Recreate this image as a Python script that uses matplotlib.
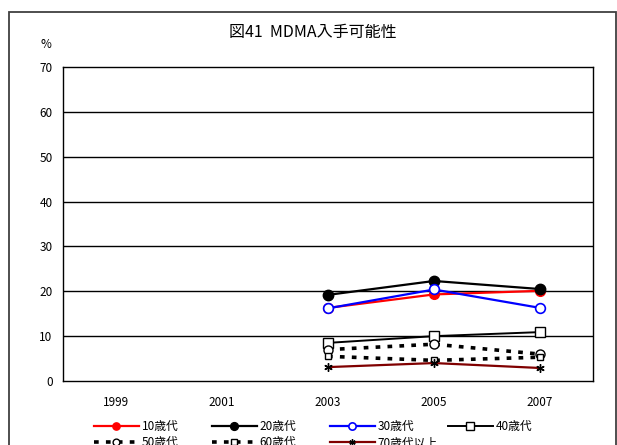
import matplotlib
matplotlib.use('Agg')
import matplotlib.pyplot as plt
from matplotlib.patches import Rectangle
import numpy as np

plt.rcParams['font.family'] = ['Noto Sans CJK JP', 'DejaVu Sans']

# 調査年と年代別の入手可能性（%）
years = ['1999', '2001', '2003', '2005', '2007']
teens = [None, None, 16.3, 19.3, 20.1]
twenties = [None, None, 19.2, 22.3, 20.5]
thirties = [None, None, 16.2, 20.4, 16.3]
forties = [None, None, 8.5, 10.0, 10.9]
fifties = [None, None, 7.0, 8.2, 6.0]
sixties = [None, None, 5.5, 4.6, 5.3]
seventies = [None, None, 3.1, 4.0, 2.9]

W, H = 617, 445
fig = plt.figure(figsize=(W / 100, H / 100), dpi=100)
ax = fig.add_axes([63 / W, 1 - 381 / H, 530 / W, 314 / H])

x = np.arange(len(years))

def arr(v):
    return np.array([np.nan if a is None else a for a in v], dtype=float)

dot = (0, (1.3, 2.0))
h10, = ax.plot(x, arr(teens), color='red', lw=1.6, marker='o', ms=7,
               mfc='red', mec='red', label='10歳代', zorder=3)
h20, = ax.plot(x, arr(twenties), color='black', lw=1.6, marker='o', ms=7.5,
               mfc='black', mec='black', label='20歳代', zorder=3)
h30, = ax.plot(x, arr(thirties), color='blue', lw=1.6, marker='o', ms=7,
               mfc='white', mec='blue', mew=1.2, label='30歳代', zorder=4)
h40, = ax.plot(x, arr(forties), color='black', lw=1.4, marker='s', ms=7,
               mfc='white', mec='black', mew=1.0, label='40歳代', zorder=3)
h50, = ax.plot(x, arr(fifties), color='black', lw=2.6, ls=dot, marker='o', ms=6.5,
               mfc='white', mec='black', mew=1.0, label='50歳代', zorder=3)
h60, = ax.plot(x, arr(sixties), color='black', lw=2.6, ls=dot, marker='s', ms=5,
               mfc='white', mec='black', mew=1.0, label='60歳代', zorder=3)
h70, = ax.plot(x, arr(seventies), color='#800000', lw=1.6, marker=(6, 2, 0), ms=6,
               mec='black', mew=1.0, label='70歳代以上', zorder=3)

ax.set_xlim(-0.5, len(years) - 0.5)
ax.set_ylim(0, 70)
ax.set_yticks(range(0, 71, 10))
ax.set_xticks(x)
ax.set_xticklabels(years)
ax.tick_params(length=0, labelsize=8.5)
ax.tick_params(axis='x', pad=11)
ax.tick_params(axis='y', pad=7.5)
for y in range(10, 70, 10):
    ax.axhline(y, color='black', lw=1.0, zorder=1)
for s in ax.spines.values():
    s.set_linewidth(1.0)
    s.set_color('black')

fig.text(46 / W, 1 - 45 / H, '%', fontsize=8.5, ha='center', va='center')
fig.text(313 / W, 1 - 33 / H, '図41  MDMA入手可能性', fontsize=11.5,
         ha='center', va='center')

# 凡例は4列、列ごとに等間隔で配置
columns = [[h10, h50], [h20, h60], [h30, h70], [h40]]
col_x = [88, 206, 324, 442]
for cx, hs in zip(col_x, columns):
    fig.legend(handles=hs, loc='upper left',
               bbox_to_anchor=(cx / W, 1 - 414 / H),
               frameon=False, fontsize=8.5, handlelength=3.8,
               handletextpad=0.25, labelspacing=0.3, borderpad=0,
               markerscale=0.75)

# 外枠
fig.patches.append(Rectangle((9 / W, -0.05), 607 / W, 1.05 - 12 / H,
                             transform=fig.transFigure, fill=False,
                             edgecolor='#404040', lw=1.3))

fig.savefig('out.png', dpi=100)
